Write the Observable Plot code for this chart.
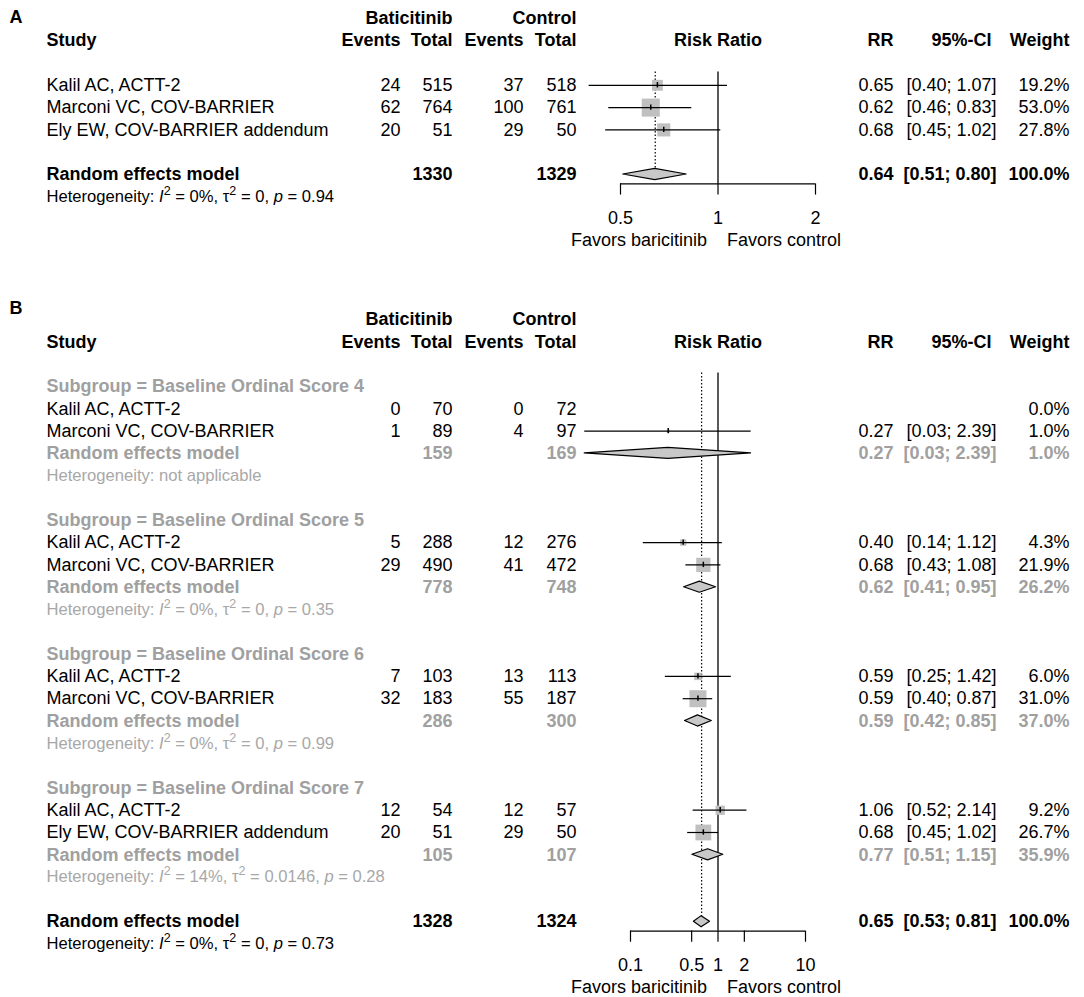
<!DOCTYPE html>
<html><head><meta charset="utf-8">
<script src="https://cdn.jsdelivr.net/npm/d3@7"></script>
<script src="https://cdn.jsdelivr.net/npm/@observablehq/plot@0.6"></script>
<style>
body{margin:0;background:#fff;}
svg{display:block;}
</style></head><body><div id="chart"></div>
<script>
// ---------- Panel A data ----------
const studiesA = ["Kalil AC, ACTT-2", "Marconi VC, COV-BARRIER", "Ely EW, COV-BARRIER addendum"];
const eventsTrtA = [24, 62, 20];
const totalTrtA = [515, 764, 51];
const eventsCtrlA = [37, 100, 29];
const totalCtrlA = [518, 761, 50];
const rrA = [0.65, 0.62, 0.68];
const lowerA = [0.40, 0.46, 0.45];
const upperA = [1.07, 0.83, 1.02];
const weightA = [19.2, 53.0, 27.8];
const pooledA = [0.64, 0.51, 0.80];       // RR, lower, upper
const pooledTotalsA = [1330, 1329];
const hetA = ["0%", "0", "0.94"];         // I2, tau2, p
const ticksA = [0.5, 1, 2];

// ---------- Panel B data ----------
const subgroupsB = ["Baseline Ordinal Score 4", "Baseline Ordinal Score 5", "Baseline Ordinal Score 6", "Baseline Ordinal Score 7"];
const studiesB = ["Kalil AC, ACTT-2", "Marconi VC, COV-BARRIER", "Kalil AC, ACTT-2", "Marconi VC, COV-BARRIER", "Kalil AC, ACTT-2", "Marconi VC, COV-BARRIER", "Kalil AC, ACTT-2", "Ely EW, COV-BARRIER addendum"];
const studyGroupB = [0, 0, 1, 1, 2, 2, 3, 3];
const eventsTrtB = [0, 1, 5, 29, 7, 32, 12, 20];
const totalTrtB = [70, 89, 288, 490, 103, 183, 54, 51];
const eventsCtrlB = [0, 4, 12, 41, 13, 55, 12, 29];
const totalCtrlB = [72, 97, 276, 472, 113, 187, 57, 50];
const rrB = [null, 0.27, 0.40, 0.68, 0.59, 0.59, 1.06, 0.68];
const lowerB = [null, 0.03, 0.14, 0.43, 0.25, 0.40, 0.52, 0.45];
const upperB = [null, 2.39, 1.12, 1.08, 1.42, 0.87, 2.14, 1.02];
const weightB = [0.0, 1.0, 4.3, 21.9, 6.0, 31.0, 9.2, 26.7];
const sgTotalTrtB = [159, 778, 286, 105];
const sgTotalCtrlB = [169, 748, 300, 107];
const sgRRB = [0.27, 0.62, 0.59, 0.77];
const sgLowerB = [0.03, 0.41, 0.42, 0.51];
const sgUpperB = [2.39, 0.95, 0.85, 1.15];
const sgWeightB = [1.0, 26.2, 37.0, 35.9];
const sgHetI2B = [null, "0%", "0%", "14%"];
const sgHetTau2B = [null, "0", "0", "0.0146"];
const sgHetPB = [null, "0.35", "0.99", "0.28"];
const pooledB = [0.65, 0.53, 0.81];
const pooledTotalsB = [1328, 1324];
const hetB = ["0%", "0", "0.73"];
const ticksB = [0.1, 0.5, 1, 2, 10];

// ---------- helpers ----------
const FONT = "'Liberation Sans', Arial, Helvetica, sans-serif";
const FS = 18, FS_HET = 16.6;
const f2 = v => v == null ? null : v.toFixed(2);
const ciText = (lo, hi) => lo == null ? null : `[${f2(lo)}; ${f2(hi)}]`;
const wText = w => w == null ? null : `${w.toFixed(1)}%`;
const hetText = (i2, t2, p) => i2 == null ? "Heterogeneity: not applicable" : `Heterogeneity: I² = ${i2}, τ² = ${t2}, p = ${p}`;

function studyRow(row, i, S, E1, N1, E2, N2, RR, LO, HI, W) {
  return {row, kind: "study", label: S[i], e1: String(E1[i]), n1: String(N1[i]), e2: String(E2[i]), n2: String(N2[i]),
    rr: RR[i], lo: LO[i], hi: HI[i], w: W[i], rrText: f2(RR[i]), ciText: ciText(LO[i], HI[i]), wText: wText(W[i])};
}
function modelRow(row, kind, n1, n2, rr, lo, hi, w) {
  return {row, kind, label: "Random effects model", e1: null, n1: String(n1), e2: null, n2: String(n2),
    rr, lo, hi, w, rrText: f2(rr), ciText: ciText(lo, hi), wText: wText(w)};
}

// rows for panel A
const rowsA = [];
studiesA.forEach((s, i) => rowsA.push(studyRow(i, i, studiesA, eventsTrtA, totalTrtA, eventsCtrlA, totalCtrlA, rrA, lowerA, upperA, weightA)));
rowsA.push(modelRow(studiesA.length + 1, "model", pooledTotalsA[0], pooledTotalsA[1], pooledA[0], pooledA[1], pooledA[2], 100));
rowsA.push({row: studiesA.length + 2, kind: "het", label: hetText(...hetA)});

// rows for panel B
const rowsB = [];
let r = 0;
subgroupsB.forEach((g, gi) => {
  rowsB.push({row: r++, kind: "sgHeader", label: `Subgroup = ${g}`});
  studiesB.forEach((s, i) => {
    if (studyGroupB[i] === gi) rowsB.push(studyRow(r++, i, studiesB, eventsTrtB, totalTrtB, eventsCtrlB, totalCtrlB, rrB, lowerB, upperB, weightB));
  });
  rowsB.push(modelRow(r++, "sgModel", sgTotalTrtB[gi], sgTotalCtrlB[gi], sgRRB[gi], sgLowerB[gi], sgUpperB[gi], sgWeightB[gi]));
  rowsB.push({row: r++, kind: "sgHet", label: hetText(sgHetI2B[gi], sgHetTau2B[gi], sgHetPB[gi])});
  r++;
});
rowsB.push(modelRow(r++, "model", pooledTotalsB[0], pooledTotalsB[1], pooledB[0], pooledB[1], pooledB[2], 100));
rowsB.push({row: r++, kind: "het", label: hetText(...hetB)});

// ---------- styles / layout ----------
const kindStyles = {
  study:    {fill: "#000", fontWeight: "normal", fontSize: FS},
  sgHeader: {fill: "#a0a0a0", fontWeight: "bold", fontSize: FS},
  sgModel:  {fill: "#a0a0a0", fontWeight: "bold", fontSize: FS},
  sgHet:    {fill: "#a8a8a8", fontWeight: "normal", fontSize: FS_HET},
  model:    {fill: "#000", fontWeight: "bold", fontSize: FS},
  het:      {fill: "#000", fontWeight: "normal", fontSize: FS_HET}
};
const columns = [
  {key: "label", x: 46, anchor: "start"},
  {key: "e1", x: 400, anchor: "end"},
  {key: "n1", x: 452, anchor: "end"},
  {key: "e2", x: 523, anchor: "end"},
  {key: "n2", x: 576, anchor: "end"},
  {key: "rrText", x: 893, anchor: "end"},
  {key: "ciText", x: 996, anchor: "end"},
  {key: "wText", x: 1069, anchor: "end"}
];
const headerTop = [{t: "Baticitinib", x: 452}, {t: "Control", x: 576}];
const headerMain = [
  {t: "Study", x: 46, anchor: "start"}, {t: "Events", x: 400}, {t: "Total", x: 452},
  {t: "Events", x: 523}, {t: "Total", x: 576}, {t: "RR", x: 893}, {t: "95%-CI", x: 991}, {t: "Weight", x: 1069}
];

function buildPanel(cfg) {
  const {rows, xDomain, xRange, ticks, yDomain, height, rMax, letter, letterRow} = cfg;
  const txt = {fontFamily: FONT, frameAnchor: "left", y: "row"};
  const bold = {fontFamily: FONT, fontWeight: "bold", fontSize: FS, fill: "#000"};
  const marks = [];
  // panel letter
  marks.push(Plot.text([letter], {text: d => d, y: () => letterRow, frameAnchor: "left", dx: 9, textAnchor: "start", ...bold}));
  // header rows
  headerTop.forEach(h => marks.push(Plot.text([h], {text: "t", y: () => -3, frameAnchor: "left", dx: h.x, textAnchor: "end", ...bold})));
  headerMain.forEach(h => marks.push(Plot.text([h], {text: "t", y: () => -2, frameAnchor: "left", dx: h.x, textAnchor: h.anchor || "end", ...bold})));
  marks.push(Plot.text(["Risk Ratio"], {text: d => d, x: () => 1, y: () => -2, textAnchor: "middle", ...bold}));
  // table body
  for (const [kind, st] of Object.entries(kindStyles)) {
    const data = rows.filter(d => d.kind === kind);
    if (!data.length) continue;
    for (const c of columns) {
      if (!data.some(d => d[c.key] != null)) continue;
      marks.push(Plot.text(data.filter(d => d[c.key] != null), {...txt, text: c.key, dx: c.x, textAnchor: c.anchor, ...st}));
    }
  }
  // forest graphic
  const studyRows = rows.filter(d => d.kind === "study" && d.rr != null);
  const modelRows = rows.filter(d => d.kind === "model" || d.kind === "sgModel");
  const overall = rows.find(d => d.kind === "model");
  const axisRow = overall.row + 0.42;
  const topRow = -0.6;
  const diamonds = modelRows.flatMap(d => [
    {id: d.row, x: d.lo, y1: d.row, y2: d.row},
    {id: d.row, x: d.rr, y1: d.row - 0.25, y2: d.row + 0.25},
    {id: d.row, x: d.hi, y1: d.row, y2: d.row}
  ]);
  marks.push(
    Plot.ruleX([overall], {x: "rr", y1: () => topRow, y2: d => d.row - 0.25, stroke: "#000", strokeWidth: 1.2, strokeDasharray: "1.5,2"}),
    Plot.ruleX([1], {x: d => d, y1: () => topRow, y2: () => axisRow, stroke: "#000", strokeWidth: 1.3}),
    Plot.dot(studyRows, {x: "rr", y: "row", r: "w", symbol: "square", fill: "#c0c0c0", stroke: "none"}),
    Plot.ruleY(studyRows, {y: "row", x1: "lo", x2: "hi", stroke: "#000", strokeWidth: 1.2}),
    Plot.ruleX(studyRows, {x: "rr", y1: d => d.row - 0.12, y2: d => d.row + 0.12, stroke: "#000", strokeWidth: 1.5}),
    Plot.areaY(diamonds, {x: "x", y1: "y1", y2: "y2", z: "id", fill: "#c8c8c8", stroke: "#000", strokeWidth: 1.2}),
    // axis
    Plot.ruleY([axisRow], {y: d => d, x1: () => ticks[0], x2: () => ticks[ticks.length - 1], stroke: "#000", strokeWidth: 1.2}),
    Plot.ruleX(ticks, {x: d => d, y1: () => axisRow, y2: () => axisRow + 0.5, stroke: "#000", strokeWidth: 1.2}),
    Plot.text(ticks, {x: d => d, y: () => axisRow + 1.53, text: d => String(d), fontFamily: FONT, fontSize: FS, fill: "#000"}),
    Plot.text(["Favors baricitinib"], {text: d => d, x: () => 1, y: () => axisRow + 2.52, textAnchor: "end", dx: -11, fontFamily: FONT, fontSize: FS, fill: "#000"}),
    Plot.text(["Favors control"], {text: d => d, x: () => 1, y: () => axisRow + 2.52, textAnchor: "start", dx: 9, fontFamily: FONT, fontSize: FS, fill: "#000"})
  );
  const maxW = d3.max(studyRows, d => d.w);
  const svg = Plot.plot({
    width: 1084, height,
    marginLeft: 0, marginRight: 0, marginTop: 0, marginBottom: 0,
    x: {type: "log", domain: xDomain, range: xRange, axis: null},
    y: {domain: yDomain, range: [0, height], axis: null},
    r: {type: "sqrt", domain: [0, maxW], range: [0, rMax]},
    style: {fontFamily: FONT, background: "#fff"},
    marks
  });
  richText(svg);
  return svg;
}

// italic I / p and superscript 2 in heterogeneity lines
function richText(svg) {
  const NS = "http://www.w3.org/2000/svg";
  svg.querySelectorAll("text").forEach(t => {
    const s = t.textContent;
    if (!s.startsWith("Heterogeneity: I²")) return;
    const parts = s.split(/(I²|τ²|p =)/).filter(p => p);
    t.textContent = "";
    let pendingDy = null;
    const add = (txt, attrs = {}) => {
      const ts = document.createElementNS(NS, "tspan");
      for (const k in attrs) ts.setAttribute(k, attrs[k]);
      if (pendingDy != null && !("dy" in attrs)) { ts.setAttribute("dy", pendingDy); pendingDy = null; }
      ts.textContent = txt;
      t.appendChild(ts);
    };
    for (const p of parts) {
      if (p === "I²" || p === "τ²") {
        add(p[0], p === "I²" ? {"font-style": "italic"} : {});
        add("2", {dy: "-7", "font-size": "12.5"});
        pendingDy = "7";
      } else if (p === "p =") {
        add("p", {"font-style": "italic"});
        add(" =");
      } else add(p);
    }
  });
}

const chart = document.getElementById("chart");
chart.appendChild(buildPanel({
  rows: rowsA, xDomain: [0.5, 2], xRange: [620, 815], ticks: ticksA,
  yDomain: [-3.8, 8.75], height: 280, rMax: 10.2, letter: "A", letterRow: -3.05
}));
chart.appendChild(buildPanel({
  rows: rowsB, xDomain: [0.1, 10], xRange: [630, 805], ticks: ticksB,
  yDomain: [-4.753, 27.399], height: 717, rMax: 9.6, letter: "B", letterRow: -3.5
}));
</script>
</body></html>
